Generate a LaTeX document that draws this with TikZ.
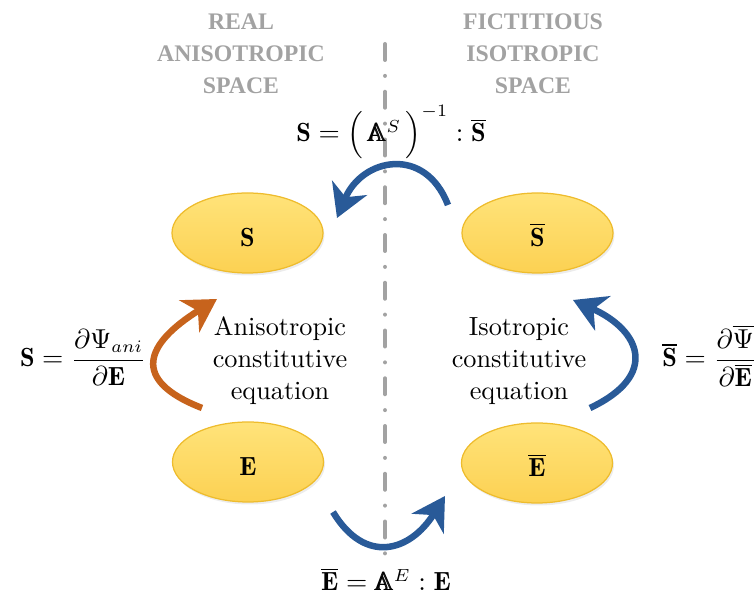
\documentclass[tikz,border=0pt]{standalone}
\usepackage{amsmath,amssymb}
\usepackage{fontspec}
\newfontfamily\headfont{Liberation Serif}
\usepackage{xcolor}
\usepackage{tikz}
\usetikzlibrary{arrows.meta,shapes.geometric,shadows}

\definecolor{mapblue}{RGB}{41,90,152}
\definecolor{laworange}{RGB}{199,99,28}
\definecolor{spacegray}{RGB}{162,162,162}
\definecolor{tensorfill}{RGB}{255,227,122}
\definecolor{tensordark}{RGB}{252,209,82}
\definecolor{tensorline}{RGB}{238,188,45}

\newcommand{\elast}{\pmb{\mathbb{A}}}

\begin{document}
\begin{tikzpicture}[
    x=0.4pt, y=-0.4pt,
    font=\fontsize{10.5}{12.8}\selectfont,
    tensor/.style={ellipse, draw=tensorline, line width=0.5pt,
        top color=tensorfill, bottom color=tensordark,
        minimum width=60.4pt, minimum height=32pt, inner sep=0pt, text height=11pt,
        drop shadow={opacity=0.15, shadow xshift=0.6pt, shadow yshift=-1pt}},
    spacehead/.style={align=center, text=spacegray, font=\headfont\bfseries\fontsize{9.5}{12.8}\selectfont},
    lawtext/.style={align=center},
    eqn/.style={inner sep=0pt},
    divider/.style={draw=spacegray, line width=1.6pt, line cap=round,
        dash pattern=on 6.4pt off 6.35pt on 0pt off 6.35pt},
    bentarrow/.style={line width=2.6pt, -{Stealth[length=13pt,width=15pt,inset=4pt]}}
]
\useasboundingbox (0,0) rectangle (756,599);

\draw[divider] (385,44) -- (385,560);

\node[spacehead] (realhead) at (241,54) {REAL\\ANISOTROPIC\\SPACE};
\node[spacehead] (fictheaD) at (533,54) {FICTITIOUS\\ISOTROPIC\\SPACE};

\node[tensor] (S) at (247.5,233) {$\mathbf{S}$};
\node[tensor] (Sbar) at (537.5,233) {$\overline{\mathbf{S}}$};
\node[tensor] (E) at (248,462) {$\mathbf{E}$};
\node[tensor] (Ebar) at (537,463) {$\overline{\mathbf{E}}$};

\node[lawtext] (anilaw) at (280,361) {Anisotropic\\constitutive\\equation};
\node[lawtext] (isolaw) at (519,361) {Isotropic\\constitutive\\equation};

% free ends of the curved arrows
\coordinate (pullTail) at (448,205);
\coordinate (pullTip) at (337,218);
\coordinate (pushTail) at (333,512);
\coordinate (pushTip) at (445,496);
\coordinate (aniTail) at (202,408);
\coordinate (aniTip) at (217,299);
\coordinate (isoTail) at (590,408);
\coordinate (isoTip) at (573,300);

\draw[bentarrow, mapblue] (pullTail) .. controls +(-23,-60) and +(25,-60) .. (pullTip);
\draw[bentarrow, mapblue] (pushTail) .. controls +(32,53) and +(-35,56) .. (pushTip);
\draw[bentarrow, laworange] (aniTail) .. controls +(-72,-28) and +(-72,45) .. (aniTip);
\draw[bentarrow, mapblue] (isoTail) .. controls +(70,-33) and +(67,30) .. (isoTip);

\node[eqn, anchor=base] (pullS) at (391,142)
    {$\mathbf{S} = \Bigl(\,\elast^{S}\,\Bigr)^{-1} : \overline{\mathbf{S}}$};
\node[eqn, anchor=base] (aniS) at (83,367)
    {$\mathbf{S} = \dfrac{\partial\Psi_{ani}}{\partial\mathbf{E}}$};
\node[eqn, anchor=base west] (isoS) at (662,367)
    {$\overline{\mathbf{S}} = \dfrac{\partial\overline{\Psi}}{\partial\overline{\mathbf{E}}}$};
\node[eqn, anchor=base] (pushE) at (386,591)
    {$\overline{\mathbf{E}} = \elast^{E} : \mathbf{E}$};
\end{tikzpicture}
\end{document}
